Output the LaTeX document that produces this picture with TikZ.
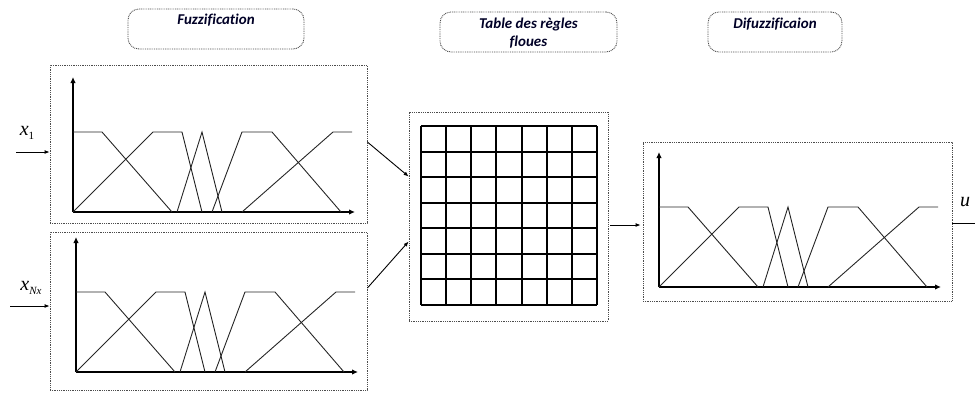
\documentclass[tikz,border=0pt]{standalone}
\usepackage{fontspec}
\setmainfont{Carlito}[Ligatures=NoCommon]
\newfontfamily\tms{Liberation Serif}
\usetikzlibrary{arrows.meta,calc}
\tikzset{
  dotbox/.style={draw=black!70, line width=0.8pt, dash pattern=on 0.9pt off 0.9pt, minimum width=#1, inner sep=0pt},
  lblbox/.style={draw=black!70, line width=0.9pt, dash pattern=on 0.9pt off 0.9pt, rounded corners=11pt, inner sep=0pt},
  lbltxt/.style={font=\fontsize{15}{18}\selectfont\bfseries\itshape, text=black!85!blue, align=center, inner sep=0pt},
  mathlbl/.style={font=\tms\fontsize{20}{20}\selectfont\itshape, inner sep=0pt},
  conn/.style={line width=0.9pt, -{Latex[length=5pt,width=4pt]}},
  mf/.style={line width=0.9pt, black!85},
  ax/.style={line width=1.8pt, -{Latex[length=6pt,width=5.5pt]}},
  gridl/.style={line width=1.2pt},
  mfset/.pic={
    \draw[ax] (0,0) -- (0,-135);
    \draw[ax] (0,0) -- (282,0);
    \draw[mf] (0,-80) -- (29,-80) -- (99,0);
    \draw[mf] (0,0) -- (80,-80) -- (109,-80) -- (129,0);
    \draw[mf] (104,0) -- (129,-80) -- (149,0);
    \draw[mf] (139,0) -- (169,-80) -- (199,-80) -- (268,0);
    \draw[mf] (169,0) -- (260,-80) -- (279,-80);
  }
}
\begin{document}
\begin{tikzpicture}[x=1pt,y=-1pt]
\useasboundingbox (0,0) rectangle (975,392);
% label boxes
\node[lblbox, minimum width=176pt, minimum height=40pt] (fz) at (216,29) {};
\node[lbltxt] (fzt) at ($(fz.north)+(0,12)$) {Fuzzification};
\node[lblbox, minimum width=177pt, minimum height=40pt] (tl) at (528.5,32) {};
\node[lbltxt] (tlt) at ($(tl.north)+(0,22)$) {Table des règles\\floues};
\node[lblbox, minimum width=134pt, minimum height=40pt] (dz) at (775,32) {};
\node[lbltxt] (dzt) at ($(dz.north)+(0,13)$) {Difuzzificaion};
% main boxes
\node[dotbox=317pt, minimum height=158pt] (b1) at (208.5,144) {};
\node[dotbox=317pt, minimum height=158pt] (b2) at (208.5,311) {};
\node[dotbox=199pt, minimum height=209pt] (tbl) at (508.5,216.5) {};
\node[dotbox=309pt, minimum height=159pt] (df) at (797.5,221.5) {};
% membership functions
\pic at (73,212) {mfset};
\pic at (76,372) {mfset};
\pic at (659,287) {mfset};
% grid
\foreach \gx in {421,446,471,496,522,547,572,597}
  \draw[gridl] (\gx,126) -- (\gx,305);
\foreach \gy in {126,152,177,203,228,254,279,305}
  \draw[gridl] (421,\gy) -- (597,\gy);
% inputs
\coordinate (in1) at (16,152);
\coordinate (in2) at (10,306);
\draw[conn] (in1) -- (in1 -| b1.west);
\draw[conn] (in2) -- (in2 -| b2.west);
\node[mathlbl] (x1) at (27,133) {x\raisebox{-4pt}{\upshape\fontsize{11}{11}\selectfont 1}};
\node[mathlbl] (xn) at (31,288) {x\raisebox{-4pt}{\fontsize{11}{11}\selectfont Nx}};
% to table
\draw[conn] ($(b1.east)+(0,-2)$) -- ($(tbl.west)+(0,-40)$);
\draw[conn] ($(b2.east)+(0,-23)$) -- ($(tbl.west)+(0,25)$);
% table to defuzz
\draw[conn] ($(tbl.east)+(2,8.5)$) -- ($(df.west)+(-2,3.5)$);
% output
\coordinate (out) at (975,223);
\draw[line width=0.9pt] (df.east |- out) -- (out);
\node[mathlbl] (u) at (965,202) {u};
\end{tikzpicture}
\end{document}
